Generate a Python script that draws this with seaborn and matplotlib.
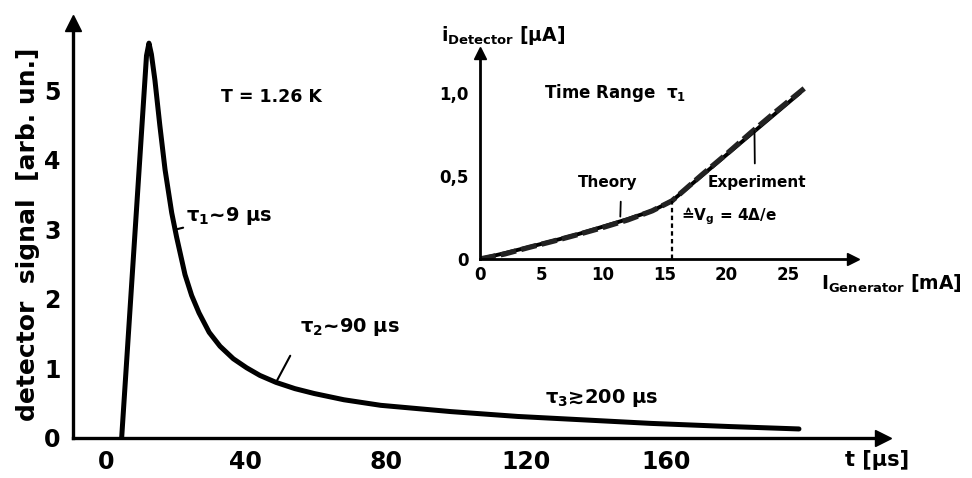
import matplotlib
matplotlib.use("Agg")
import matplotlib.pyplot as plt
import numpy as np
import pandas as pd
import seaborn as sns

# ---------------- data ----------------
# main trace: detector signal vs time
time_us = [4.5, 11.6, 12.3, 13.0, 14.0, 15.4, 16.9, 18.8, 20.2, 22.6, 24.5,
           26.6, 29.5, 32.6, 36.4, 40.2, 44.0, 48.6, 54.0, 59.5, 68.0, 78.5,
           98.5, 117.6, 136.7, 155.7, 178.0, 198.0]
signal = [0.0, 5.50, 5.68, 5.52, 5.15, 4.50, 3.86, 3.24, 2.89, 2.35, 2.05,
          1.80, 1.52, 1.32, 1.14, 1.01, 0.90, 0.80, 0.71, 0.64, 0.55, 0.47,
          0.38, 0.31, 0.26, 0.21, 0.165, 0.13]
x_ticks = [0, 40, 80, 120, 160]
y_ticks = [0, 1, 2, 3, 4, 5]

# inset: detector current vs generator current
gen_theory = [0, 2, 4, 6, 8, 10, 12, 14, 15.6, 18, 20, 22, 24, 26.0]
det_theory = [0, 0.035, 0.072, 0.11, 0.15, 0.195, 0.24, 0.29, 0.35,
              0.50, 0.625, 0.75, 0.875, 1.0]
gen_exp = [0, 2, 4, 6, 8, 10, 12, 14, 15.6, 18, 20, 22, 24, 26.4]
det_exp = [0, 0.03, 0.07, 0.108, 0.148, 0.19, 0.235, 0.29, 0.35,
           0.505, 0.63, 0.76, 0.885, 1.03]
gap_current = 15.6
gap_signal = 0.35
inset_x_ticks = [0, 5, 10, 15, 20, 25]
inset_y_ticks = [0, 0.5, 1.0]
inset_y_labels = ["0", "0,5", "1,0"]

# ---------------- style ----------------
sns.set_theme(style="white")
plt.rcParams["font.family"] = ["DejaVu Sans"]
plt.rcParams["mathtext.default"] = "bf"
plt.rcParams["font.weight"] = "bold"
plt.rcParams["text.color"] = "black"
plt.rcParams["axes.labelcolor"] = "black"
plt.rcParams["xtick.color"] = "black"
plt.rcParams["ytick.color"] = "black"

fig = plt.figure(figsize=(9.72, 4.78), dpi=100)
fig.patch.set_facecolor("white")

# ---------------- main axes ----------------
ax = fig.add_axes([0.0751, 0.0837, 0.8333, 0.8682])
ax.set_facecolor("white")
main_df = pd.DataFrame({"t": time_us, "s": signal})
sns.lineplot(data=main_df, x="t", y="s", ax=ax, color="black", lw=3.6,
             sort=False, estimator=None, solid_joinstyle="round",
             solid_capstyle="round")
ax.set_xlim(-9.4, 222)
ax.set_ylim(0, 5.97)
for s in ["top", "right"]:
    ax.spines[s].set_visible(False)
for s in ["left", "bottom"]:
    ax.spines[s].set_linewidth(2.4)
    ax.spines[s].set_color("black")
ax.set_xticks(x_ticks)
ax.set_yticks(y_ticks)
ax.tick_params(direction="in", length=7, width=2, colors="black",
               labelsize=17, pad=9)
for lab in ax.get_xticklabels() + ax.get_yticklabels():
    lab.set_fontweight("bold")
ax.plot(0, 1, marker="^", ms=11, color="black", transform=ax.transAxes,
        clip_on=False)
ax.plot(1, 0, marker=">", ms=11, color="black", transform=ax.transAxes,
        clip_on=False)

ax.set_ylabel("detector  signal  [arb. un.]", fontsize=18, fontweight="bold",
              color="black")
ax.yaxis.set_label_coords(-0.041, 0.49)
ax.set_xlabel("t [µs]", fontsize=15, fontweight="bold", color="black")
ax.xaxis.set_label_coords(0.993, -0.03)

ax.text(47.4, 4.9, "T = 1.26 K", fontsize=12.5, fontweight="bold",
        ha="center", va="center")
ax.annotate("τ$_1$~9 µs", xy=(20.0, 3.0), xytext=(23.0, 3.19),
            fontsize=14, fontweight="bold", va="center", ha="left",
            arrowprops=dict(arrowstyle="-", color="black", lw=1.5,
                            shrinkA=0, shrinkB=0))
ax.annotate("τ$_2$~90 µs", xy=(48.6, 0.80), xytext=(55.4, 1.60),
            fontsize=14, fontweight="bold", va="center", ha="left",
            arrowprops=dict(arrowstyle="-", color="black", lw=1.5,
                            shrinkA=12, shrinkB=0, relpos=(0.0, 0.0)))
ax.text(125.4, 0.58, "τ$_3$≳200 µs", fontsize=14, fontweight="bold",
        va="center", ha="left")

# ---------------- inset ----------------
ax2 = fig.add_axes([0.4938, 0.4582, 0.3837, 0.431])
ax2.set_facecolor("none")
th_df = pd.DataFrame({"I": gen_theory, "i": det_theory})
ex_df = pd.DataFrame({"I": gen_exp, "i": det_exp})
sns.lineplot(data=th_df, x="I", y="i", ax=ax2, color="black", lw=2.8,
             sort=False, estimator=None)
sns.lineplot(data=ex_df, x="I", y="i", ax=ax2, color="#222222", lw=3.8,
             sort=False, estimator=None, linestyle=(0, (3, 1)))
ax2.vlines(gap_current, 0, gap_signal, colors="black", linestyles=(0, (2, 1.5)),
           lw=1.6)
ax2.set_xlim(0, 30.3)
ax2.set_ylim(0, 1.24)
for s in ["top", "right"]:
    ax2.spines[s].set_visible(False)
for s in ["left", "bottom"]:
    ax2.spines[s].set_linewidth(2.0)
    ax2.spines[s].set_color("black")
ax2.set_xticks(inset_x_ticks)
ax2.set_yticks(inset_y_ticks)
ax2.set_yticklabels(inset_y_labels)
ax2.tick_params(axis="x", direction="in", length=5, width=1.6, labelsize=12,
                pad=5, colors="black")
ax2.tick_params(axis="y", direction="out", length=5, width=1.6, labelsize=12,
                pad=3, colors="black")
for lab in ax2.get_xticklabels() + ax2.get_yticklabels():
    lab.set_fontweight("bold")
ax2.set_xlabel("")
ax2.set_ylabel("")
ax2.plot(0, 1, marker="^", ms=8, color="black", transform=ax2.transAxes,
         clip_on=False)
ax2.plot(1, 0, marker=">", ms=8, color="black", transform=ax2.transAxes,
         clip_on=False)

ax2.text(-0.105, 1.03, "i$_{Detector}$ [µA]", transform=ax2.transAxes,
         fontsize=13.5, fontweight="bold", ha="left", va="bottom")
ax2.text(0.915, -0.065, "I$_{Generator}$ [mA]", transform=ax2.transAxes,
         fontsize=13.5, fontweight="bold", ha="left", va="top")
ax2.text(5.2, 1.0, "Time Range  τ$_1$", fontsize=12, fontweight="bold",
         ha="left", va="center")
ax2.annotate("Theory", xy=(11.4, 0.255), xytext=(10.4, 0.46),
             fontsize=11, fontweight="bold", ha="center", va="center",
             arrowprops=dict(arrowstyle="-", color="black", lw=1.3,
                             shrinkA=6, shrinkB=0,
                             relpos=(0.72, 0.0)))
ax2.annotate("Experiment", xy=(22.3, 0.77), xytext=(22.5, 0.46),
             fontsize=11, fontweight="bold", ha="center", va="center",
             arrowprops=dict(arrowstyle="-", color="black", lw=1.3,
                             shrinkA=6, shrinkB=0,
                             relpos=(0.48, 1.0)))
ax2.text(16.3, 0.26, "≙V$_g$ = 4Δ/e", fontsize=11, fontweight="bold",
         ha="left", va="center")

fig.savefig("out.png", dpi=100, facecolor="white")
